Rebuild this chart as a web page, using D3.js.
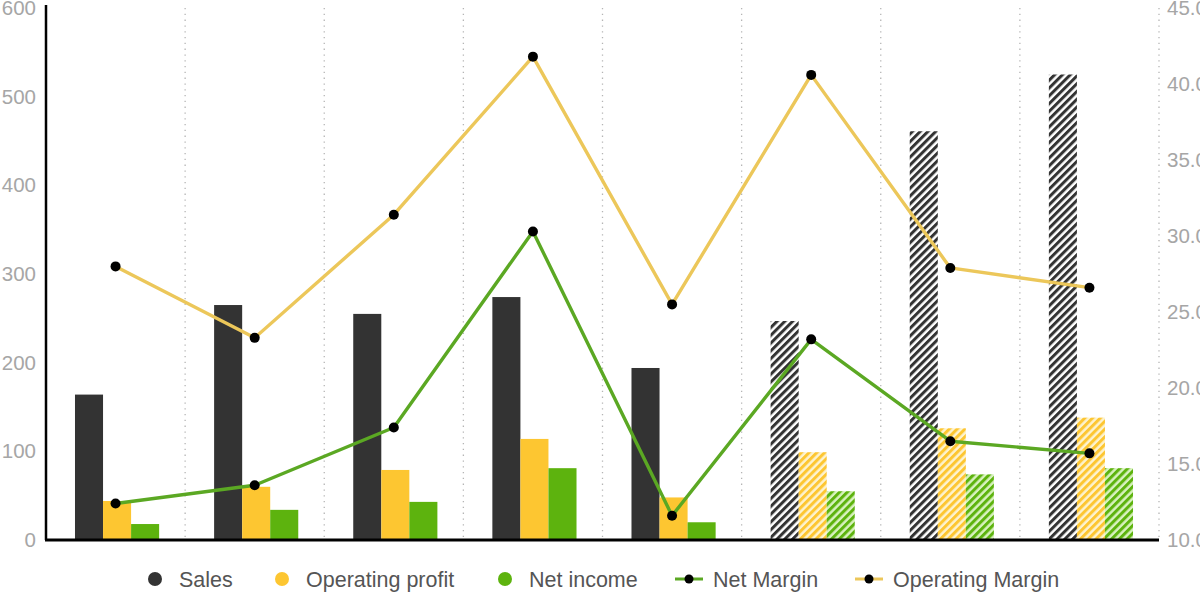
<!DOCTYPE html>
<html lang="en">
<head>
<meta charset="UTF-8">
<title>Sales and margins</title>
<script src="https://d3js.org/d3.v7.min.js"></script>
<style>
  body { margin: 0; background: #fff; }
  svg { display: block; font-family: "Liberation Sans", Arial, sans-serif; }
</style>
</head>
<body>
<svg id="chart" width="1200" height="600"></svg>
<script>
// chart values
var categories = ["Y1", "Y2", "Y3", "Y4", "Y5", "Y6F", "Y7F", "Y8F"];
var forecast = [false, false, false, false, false, true, true, true];
var sales = [164, 265, 255, 274, 194, 247, 461, 525];
var operatingProfit = [44, 60, 79, 114, 48, 99, 126, 138];
var netIncome = [18, 34, 43, 81, 20, 55, 74, 81];
var netMargin = [12.4, 13.6, 17.4, 30.3, 11.6, 23.2, 16.5, 15.7];
var operatingMargin = [28.0, 23.3, 31.4, 41.8, 25.5, 40.6, 27.9, 26.6];
var leftTicks = [0, 100, 200, 300, 400, 500, 600];
var rightTicks = [10, 15, 20, 25, 30, 35, 40, 45];

var svg = d3.select("#chart"),
    margin = { left: 46, right: 41, top: 8, bottom: 60 },
    width = 1200 - margin.left - margin.right,
    height = 600 - margin.top - margin.bottom;

var colors = { sales: "#333333", op: "#fdc631", net: "#5db30e", netLine: "#5ba823", opLine: "#ecc75a" };

// hatch patterns for forecast bars
var defs = svg.append("defs");
function hatch(id, fg, bg) {
    var p = defs.append("pattern")
        .attr("id", id)
        .attr("patternUnits", "userSpaceOnUse")
        .attr("width", 5.5).attr("height", 5.5)
        .attr("patternTransform", "rotate(45)");
    p.append("rect").attr("width", 5.5).attr("height", 5.5).attr("fill", bg);
    p.append("rect").attr("width", 3).attr("height", 5.5).attr("fill", fg);
}
hatch("hatch-sales", colors.sales, "#ffffff");
hatch("hatch-op", colors.op, "#fdf3cf");
hatch("hatch-net", colors.net, "#d8f2bf");

var g = svg.append("g").attr("transform", "translate(" + margin.left + "," + margin.top + ")");

var x = d3.scaleBand().domain(categories).range([0, width]);
var sub = d3.scaleBand().domain(["sales", "op", "net"]).range([0, x.bandwidth()]).paddingOuter(0.98).paddingInner(0);
var y = d3.scaleLinear().domain([0, 600]).range([height, 0]);
var y2 = d3.scaleLinear().domain([10, 45]).range([height, 0]);

// dotted vertical grid lines between categories
g.append("g").selectAll("line")
    .data(categories)
    .join("line")
    .attr("x1", function(d) { return x(d) + x.bandwidth(); })
    .attr("x2", function(d) { return x(d) + x.bandwidth(); })
    .attr("y1", 0).attr("y2", height)
    .attr("stroke", "#b5b5b5")
    .attr("stroke-width", 1.3)
    .attr("stroke-dasharray", "1.3,4.5");

// bars
var seriesList = [
    { key: "sales", values: sales, color: colors.sales, pattern: "hatch-sales" },
    { key: "op", values: operatingProfit, color: colors.op, pattern: "hatch-op" },
    { key: "net", values: netIncome, color: colors.net, pattern: "hatch-net" }
];
seriesList.forEach(function(s) {
    g.append("g").selectAll("rect")
        .data(s.values)
        .join("rect")
        .attr("x", function(d, i) { return x(categories[i]) + sub(s.key) + 1.5; })
        .attr("width", sub.bandwidth())
        .attr("y", function(d) { return y(d); })
        .attr("height", function(d) { return height - y(d); })
        .attr("fill", function(d, i) { return forecast[i] ? "url(#" + s.pattern + ")" : s.color; });
});

// margin lines
function drawLine(values, color) {
    var line = d3.line()
        .x(function(d, i) { return x(categories[i]) + x.bandwidth() / 2; })
        .y(function(d) { return y2(d); });
    g.append("path")
        .datum(values)
        .attr("d", line)
        .attr("fill", "none")
        .attr("stroke", color)
        .attr("stroke-width", 3.4)
        .attr("stroke-linejoin", "round");
    g.append("g").selectAll("circle")
        .data(values)
        .join("circle")
        .attr("cx", function(d, i) { return x(categories[i]) + x.bandwidth() / 2; })
        .attr("cy", function(d) { return y2(d); })
        .attr("r", 5)
        .attr("fill", "#000");
}
drawLine(operatingMargin, colors.opLine);
drawLine(netMargin, colors.netLine);

// axes
var leftAxis = g.append("g")
    .call(d3.axisLeft(y).tickValues(leftTicks).tickSize(0).tickPadding(10));
leftAxis.select(".domain").attr("stroke", "#000").attr("stroke-width", 2.5).attr("d", "M0,-3V" + height);
leftAxis.selectAll("text").attr("fill", "#a6a6a6").attr("font-size", 20.5).style("font-family", "Liberation Sans, Arial, sans-serif");

var rightAxis = g.append("g")
    .attr("transform", "translate(" + width + ",0)")
    .call(d3.axisRight(y2).tickValues(rightTicks).tickSize(0).tickPadding(8).tickFormat(d3.format(".1f")));
rightAxis.select(".domain").remove();
rightAxis.selectAll("text").attr("fill", "#a6a6a6").attr("font-size", 20.5).style("font-family", "Liberation Sans, Arial, sans-serif");

// baseline
g.append("line")
    .attr("x1", -1).attr("x2", width)
    .attr("y1", height).attr("y2", height)
    .attr("stroke", "#000").attr("stroke-width", 3);

// legend
var legendItems = [
    { label: "Sales", color: colors.sales, type: "dot", x: 155 },
    { label: "Operating profit", color: colors.op, type: "dot", x: 282 },
    { label: "Net income", color: colors.net, type: "dot", x: 505 },
    { label: "Net Margin", color: colors.netLine, type: "line", x: 689 },
    { label: "Operating Margin", color: colors.opLine, type: "line", x: 869 }
];
var legend = svg.append("g").attr("transform", "translate(0,579)");
legendItems.forEach(function(item) {
    var it = legend.append("g").attr("transform", "translate(" + item.x + ",0)");
    if (item.type === "dot") {
        it.append("circle").attr("r", 7).attr("fill", item.color);
        it.append("text").attr("x", 24).attr("dy", "0.35em")
            .attr("font-size", 21.5).attr("fill", "#555").text(item.label);
    } else {
        it.append("line").attr("x1", -14).attr("x2", 14)
            .attr("stroke", item.color).attr("stroke-width", 3);
        it.append("circle").attr("r", 4.5).attr("fill", "#000");
        it.append("text").attr("x", 24).attr("dy", "0.35em")
            .attr("font-size", 21.5).attr("fill", "#555").text(item.label);
    }
});
</script>
</body>
</html>
